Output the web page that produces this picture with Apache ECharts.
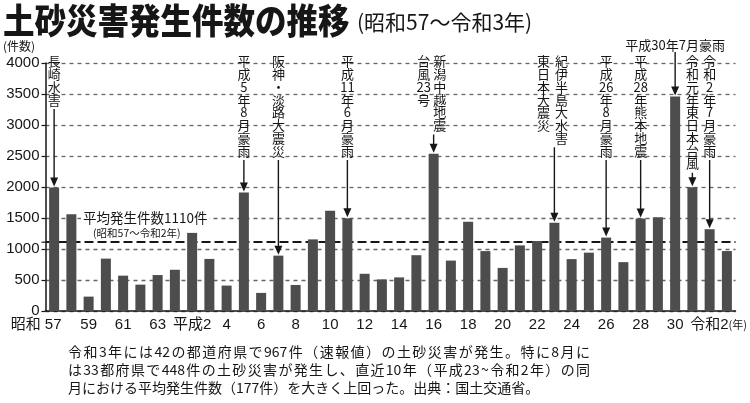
<!DOCTYPE html>
<html><head><meta charset="utf-8">
<script src="https://cdn.jsdelivr.net/npm/echarts@6/dist/echarts.min.js"></script>
<style>html,body{margin:0;padding:0;background:#fff}#c{width:750px;height:403px}</style>
</head><body><div id="c"></div>
<script>
// ---- data ----
const categories = ['昭和57','昭和58','昭和59','昭和60','昭和61','昭和62','昭和63','平成元','平成2','平成3',
  '平成4','平成5','平成6','平成7','平成8','平成9','平成10','平成11','平成12','平成13',
  '平成14','平成15','平成16','平成17','平成18','平成19','平成20','平成21','平成22','平成23',
  '平成24','平成25','平成26','平成27','平成28','平成29','平成30','令和元','令和2','令和3'];
const counts = [1990,1560,232,845,570,425,580,665,1260,840,
  410,1910,292,893,420,1155,1615,1495,600,510,
  542,900,2537,813,1441,966,695,1058,1128,1422,
  837,941,1184,788,1492,1514,3459,1996,1319,967];
const yMin = 0, yMax = 4000, yStep = 500;
const averageCount = 1110;
const titleText = '土砂災害発生件数の推移';
const subtitleText = '(昭和57〜令和3年)';
const unitText = '(件数)';
const annotations = [
  {year:'昭和57', texts:['長崎水害']},
  {year:'平成5', texts:['平成5年8月豪雨']},
  {year:'平成7', texts:['阪神・淡路大震災']},
  {year:'平成11', texts:['平成11年6月豪雨']},
  {year:'平成16', texts:['新潟中越地震','台風23号']},
  {year:'平成23', texts:['東日本大震災','紀伊半島大水害']},
  {year:'平成26', texts:['平成26年8月豪雨']},
  {year:'平成28', texts:['平成28年熊本地震']},
  {year:'平成30', texts:['平成30年7月豪雨'], horizontal:true},
  {year:'令和元', texts:['令和元年東日本台風']},
  {year:'令和2', texts:['令和2年7月豪雨']}
];
const noteLines = [
  '令和3年には42の都道府県で967件（速報値）の土砂災害が発生。特に8月に',
  'は33都府県で448件の土砂災害が発生し、直近10年（平成23~令和2年）の同',
  '月における平均発生件数（177件）を大きく上回った。出典：国土交通省。'
];

// ---- layout / style ----
const columnShift = {'平成16':[6,-10], '平成23':[-11,7]};
const JP = "'Noto Sans CJK JP','Noto Sans CJK SC',sans-serif";
const NUM = "'Liberation Sans','Noto Sans CJK JP',sans-serif";
const INK = '#161616';

const chart = echarts.init(document.getElementById('c'), null, {renderer:'canvas'});

function xLabel(v, i){
  const m = v.match(/^(昭和|平成|令和)(.+)$/);
  const era = m[1], num = m[2];
  if (i === 0) return '{first|' + era + ' ' + num + '}';
  if (i + 2 >= categories.length) return '{last|' + era + num + '}{unit|(年)}';
  const prev = categories[i-2];
  if (!prev.startsWith(era)) return '{plain|' + era + num + '}';
  return '{plain|' + num + '}';
}

chart.setOption({
  animation:false,
  grid:{left:45.5, right:12, top:63, bottom:92},
  xAxis:{
    type:'category', data:categories,
    axisLine:{lineStyle:{color:INK, width:1.5}},
    axisTick:{show:false},
    axisLabel:{
      interval:1, margin:6, formatter:xLabel,
      rich:{
        plain:{fontSize:15, fontFamily:NUM, color:INK},
        first:{fontSize:15, fontFamily:NUM, color:INK, padding:[0,36,0,0]},
        last:{fontSize:15, fontFamily:NUM, color:INK, padding:[0,0,0,18]},
        unit:{fontSize:11, fontFamily:JP, color:INK}
      }
    }
  },
  yAxis:{
    type:'value', min:yMin, max:yMax, interval:yStep,
    axisLine:{show:true, lineStyle:{color:INK, width:1.5}},
    axisTick:{show:true, length:4, lineStyle:{color:INK, width:1.2}},
    axisLabel:{margin:6, fontSize:15, fontFamily:NUM, color:INK, formatter:(v)=>String(v)},
    splitLine:{lineStyle:{type:[4,4], color:'#666', width:1.3}}
  },
  series:[{
    type:'bar', data:counts, barWidth:10, z:2,
    itemStyle:{color:'#4d4d4d'},
    markLine:{
      silent:true, z:1, symbol:['none','none'], label:{show:false},
      lineStyle:{type:[9,4], color:INK, width:2},
      data:[{yAxis:averageCount}]
    }
  }]
});

function px(cat, val){ return chart.convertToPixel({xAxisIndex:0, yAxisIndex:0}, [cat, val]); }
function splitVertical(t){ return t.match(/[0-9]+|./g); }

const g = [];
// title
g.push({type:'text', x:3, y:21, scaleX:0.9, style:{text:titleText, x:0, y:0, fontSize:35, fontWeight:900, fontFamily:JP, fill:INK, align:'left', verticalAlign:'middle'}});
g.push({type:'text', x:357, y:22, style:{text:subtitleText, fontSize:21, fontFamily:JP, fill:INK, align:'left', verticalAlign:'middle'}});
g.push({type:'text', x:3, y:46, style:{text:unitText, fontSize:12, fontFamily:JP, fill:INK, align:'left', verticalAlign:'middle'}});

// annotations
const LH = 12.75, TOP = 55;
annotations.forEach(a => {
  const idx = categories.indexOf(a.year);
  const p = px(a.year, counts[idx]);
  const bx = p[0], tip = p[1] - 1;
  let y1;
  if (a.horizontal){
    g.push({type:'text', style:{text:a.texts[0], x:bx, y:45, fontSize:13, fontFamily:JP, fill:INK, align:'center', verticalAlign:'middle'}});
    y1 = 52;
  } else {
    let maxLines = 0;
    a.texts.forEach((t, k) => {
      const lines = splitVertical(t);
      maxLines = Math.max(maxLines, lines.length);
      const dx = columnShift[a.year] ? columnShift[a.year][k] : 0;
      g.push({type:'text', style:{text:lines.join('\n'), x:bx+dx, y:TOP, fontSize:13, lineHeight:LH, fontFamily:JP, fill:INK, align:'center', verticalAlign:'top'}});
    });
    y1 = TOP + maxLines*LH + 3;
  }
  g.push({type:'line', shape:{x1:bx, y1:y1, x2:bx, y2:tip-6}, style:{stroke:INK, lineWidth:1.4}});
  g.push({type:'polygon', shape:{points:[[bx-4,tip-9],[bx+4,tip-9],[bx,tip]]}, style:{fill:INK}});
});

// average label + its tick on the value axis
const pAvg = px(categories[0], averageCount);
g.push({type:'line', shape:{x1:41.5, y1:pAvg[1], x2:45.5, y2:pAvg[1]}, style:{stroke:INK, lineWidth:1.2}});
g.push({type:'text', style:{text:'平均発生件数' + averageCount + '件', x:81, y:218, fontSize:13.5, fontFamily:JP, fill:INK, align:'left', verticalAlign:'middle', backgroundColor:'#fff', padding:[1,2,1,2]}});
g.push({type:'text', style:{text:'(' + categories[0] + '〜' + categories[categories.length-2] + '年)', x:93, y:233, fontSize:10.5, fontFamily:JP, fill:INK, align:'left', verticalAlign:'middle'}});

// footnote (lines 1-2 justified)
const NOTE_FS = 14;
const mctx = document.createElement('canvas').getContext('2d');
mctx.font = NOTE_FS + 'px ' + JP;
function addLine(text, x0, yc, width){
  const units = text.match(/[0-9A-Za-z]+|./g);
  const ws = units.map(u => mctx.measureText(u).width);
  const total = ws.reduce((s,w)=>s+w, 0);
  const gap = width ? (width - total)/(units.length - 1) : 0;
  let x = x0;
  units.forEach((u, i) => {
    g.push({type:'text', style:{text:u, x:x, y:yc, fontSize:NOTE_FS, fontFamily:JP, fill:INK, align:'left', verticalAlign:'middle'}});
    x += ws[i] + gap;
  });
}
addLine(noteLines[0], 68, 352, 522);
addLine(noteLines[1], 68, 370, 522);
addLine(noteLines[2], 68, 388, 0);

chart.setOption({graphic:g});
</script></body></html>
